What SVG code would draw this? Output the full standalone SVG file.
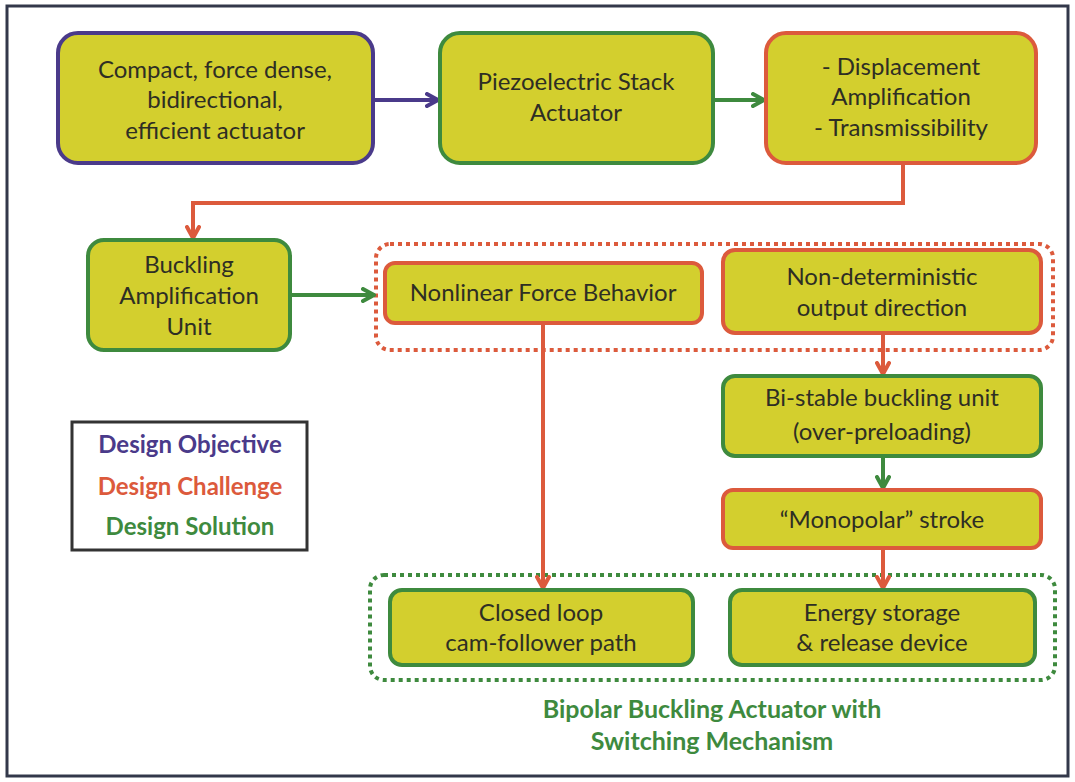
<svg xmlns="http://www.w3.org/2000/svg" width="1075" height="782" viewBox="0 0 1075 782">
<defs>
<style>
.n{fill:#d3cf2e;stroke-width:4}
.p{stroke:#4a3a8a}
.g{stroke:#3e8a3e}
.r{stroke:#dc5a3c}
.t{font-family:Lato,"Open Sans",sans-serif;font-size:24px;fill:#2e2e24;text-anchor:middle}
.b{font-family:Lato,"Open Sans",sans-serif;font-size:24px;font-weight:bold;text-anchor:middle}
.c{fill:none;stroke-width:4}
</style>
<marker id="ap" viewBox="0 0 16 16" refX="13" refY="8" markerWidth="16" markerHeight="16" markerUnits="userSpaceOnUse" orient="auto"><path d="M2,2 L13,8 L2,14" fill="none" stroke="#4a3a8a" stroke-width="4" stroke-linecap="round" stroke-linejoin="round"/></marker>
<marker id="ag" viewBox="0 0 16 16" refX="13" refY="8" markerWidth="16" markerHeight="16" markerUnits="userSpaceOnUse" orient="auto"><path d="M2,2 L13,8 L2,14" fill="none" stroke="#3e8a3e" stroke-width="4" stroke-linecap="round" stroke-linejoin="round"/></marker>
<marker id="ar" viewBox="0 0 16 16" refX="13" refY="8" markerWidth="16" markerHeight="16" markerUnits="userSpaceOnUse" orient="auto"><path d="M2,2 L13,8 L2,14" fill="none" stroke="#dc5a3c" stroke-width="4" stroke-linecap="round" stroke-linejoin="round"/></marker>
</defs>
<rect width="1075" height="782" fill="#ffffff"/>
<rect x="7" y="6" width="1061" height="770" fill="none" stroke="#33384a" stroke-width="3"/>

<g id="groups">
<rect x="376" y="244" width="677" height="106" rx="14" fill="none" stroke="#dc5a3c" stroke-width="4" stroke-dasharray="4 4"/>
<rect x="370" y="575" width="685" height="105" rx="14" fill="none" stroke="#3e8a3e" stroke-width="4" stroke-dasharray="4 4"/>
</g>

<g id="connectors">
<path class="c p" d="M374,100 H438" marker-end="url(#ap)"/>
<path class="c g" d="M713,100 H764" marker-end="url(#ag)"/>
<path class="c r" d="M903,163 V203 H193 V238" marker-end="url(#ar)"/>
<path class="c g" d="M290,295 H374" marker-end="url(#ag)"/>
<path class="c r" d="M543,323 V588" marker-end="url(#ar)"/>
<path class="c r" d="M883,333 V374" marker-end="url(#ar)"/>
<path class="c g" d="M883,456 V488" marker-end="url(#ag)"/>
<path class="c r" d="M883,548 V588" marker-end="url(#ar)"/>
</g>

<g id="objective">
<rect class="n p" x="58" y="33" width="315" height="130" rx="20"/>
<text class="t" x="215" y="78">Compact, force dense,</text>
<text class="t" x="215" y="108">bidirectional,</text>
<text class="t" x="215" y="139">efficient actuator</text>
</g>
<g id="piezo">
<rect class="n g" x="440" y="33" width="273" height="130" rx="20"/>
<text class="t" x="576" y="90">Piezoelectric Stack</text>
<text class="t" x="576" y="121">Actuator</text>
</g>
<g id="displacement">
<rect class="n r" x="766" y="33" width="270" height="130" rx="20"/>
<text class="t" x="901" y="75">- Displacement</text>
<text class="t" x="901" y="105">Amplification</text>
<text class="t" x="901" y="136">- Transmissibility</text>
</g>
<g id="buckling">
<rect class="n g" x="88" y="240" width="202" height="110" rx="16"/>
<text class="t" x="189" y="273">Buckling</text>
<text class="t" x="189" y="304">Amplification</text>
<text class="t" x="189" y="335">Unit</text>
</g>
<g id="nonlinear">
<rect class="n r" x="385" y="263" width="317" height="60" rx="10"/>
<text class="t" x="543" y="301">Nonlinear Force Behavior</text>
</g>
<g id="nondet">
<rect class="n r" x="723" y="250" width="318" height="83" rx="12"/>
<text class="t" x="882" y="285">Non-deterministic</text>
<text class="t" x="882" y="316">output direction</text>
</g>
<g id="bistable">
<rect class="n g" x="723" y="376" width="318" height="80" rx="12"/>
<text class="t" x="882" y="406">Bi-stable buckling unit</text>
<text class="t" x="882" y="440">(over-preloading)</text>
</g>
<g id="monopolar">
<rect class="n r" x="723" y="490" width="318" height="58" rx="10"/>
<text class="t" x="882" y="528">“Monopolar” stroke</text>
</g>
<g id="closedloop">
<rect class="n g" x="390" y="590" width="303" height="75" rx="12"/>
<text class="t" x="541" y="621">Closed loop</text>
<text class="t" x="541" y="651">cam-follower path</text>
</g>
<g id="energy">
<rect class="n g" x="730" y="590" width="305" height="75" rx="12"/>
<text class="t" x="882" y="621">Energy storage</text>
<text class="t" x="882" y="651">&amp; release device</text>
</g>

<g id="caption">
<text class="b" x="712" y="718" fill="#3e8a3e" style="font-size:25px">Bipolar Buckling Actuator with</text>
<text class="b" x="712" y="750" fill="#3e8a3e" style="font-size:25px">Switching Mechanism</text>
</g>

<g id="legend">
<rect x="72" y="422" width="235" height="128" fill="#ffffff" stroke="#333333" stroke-width="3"/>
<text class="b" x="190" y="453" fill="#4a3a8a">Design Objective</text>
<text class="b" x="190" y="495" fill="#dc5a3c">Design Challenge</text>
<text class="b" x="190" y="535" fill="#3e8a3e">Design Solution</text>
</g>
</svg>
